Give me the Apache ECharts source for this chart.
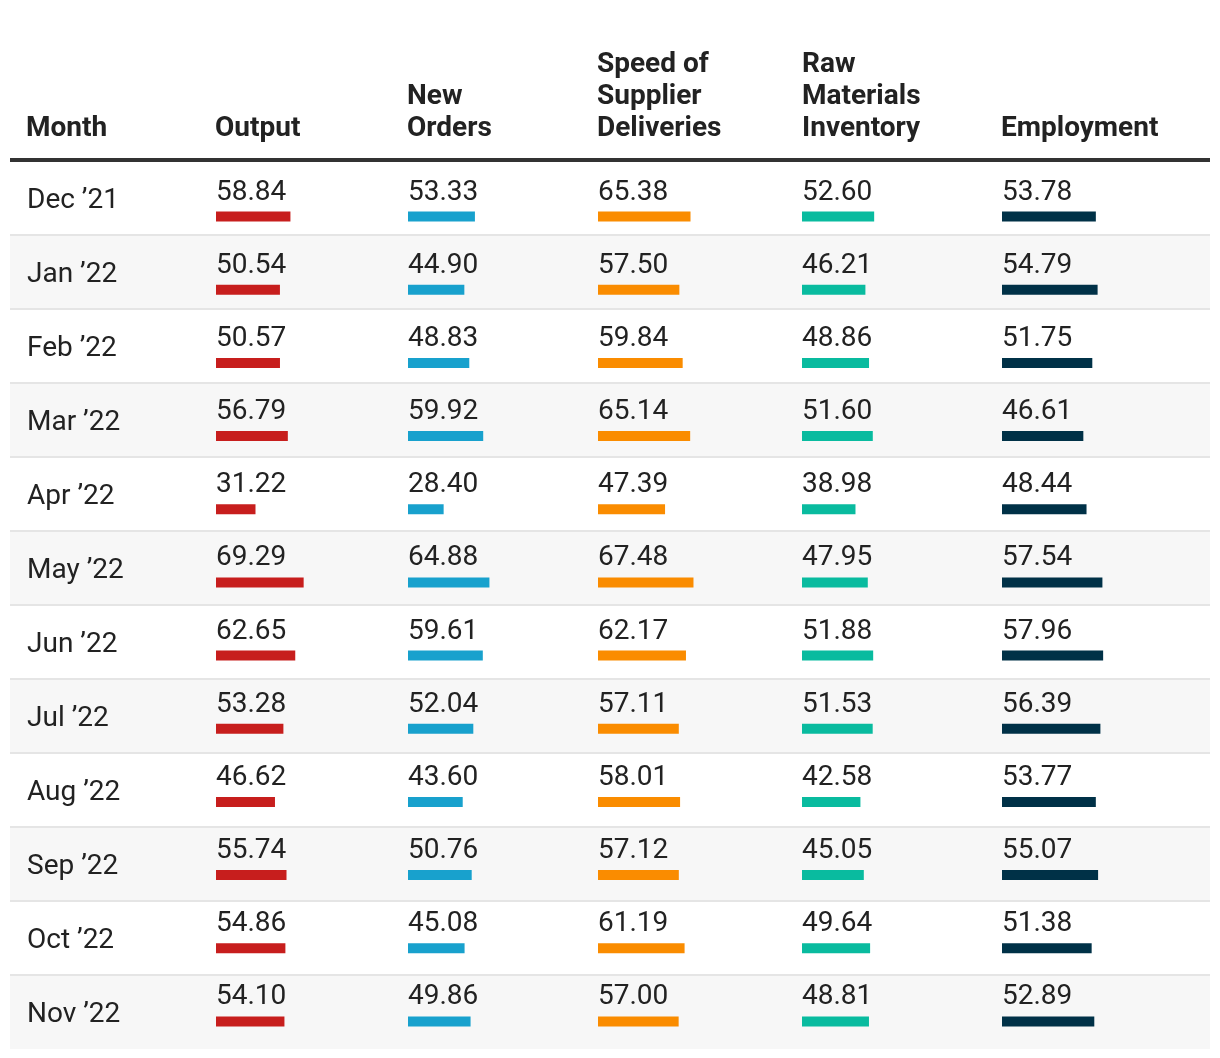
<!DOCTYPE html>
<html>
<head>
<meta charset="utf-8">
<script src="https://cdn.jsdelivr.net/npm/echarts@6/dist/echarts.min.js"></script>
<style>
html,body{margin:0;padding:0;background:#fff;}
#chart{width:1220px;height:1058px;}
</style>
</head>
<body>
<div id="chart"></div>
<script>
// ---- data ----
const months = ['Dec \u201921','Jan \u201922','Feb \u201922','Mar \u201922','Apr \u201922','May \u201922','Jun \u201922','Jul \u201922','Aug \u201922','Sep \u201922','Oct \u201922','Nov \u201922'];
const columnHeaders = ['Month','Output','New\nOrders','Speed of\nSupplier\nDeliveries','Raw\nMaterials\nInventory','Employment'];
const output     = [58.84,50.54,50.57,56.79,31.22,69.29,62.65,53.28,46.62,55.74,54.86,54.10];
const newOrders  = [53.33,44.90,48.83,59.92,28.40,64.88,59.61,52.04,43.60,50.76,45.08,49.86];
const supplier   = [65.38,57.50,59.84,65.14,47.39,67.48,62.17,57.11,58.01,57.12,61.19,57.00];
const rawInv     = [52.60,46.21,48.86,51.60,38.98,47.95,51.88,51.53,42.58,45.05,49.64,48.81];
const employment = [53.78,54.79,51.75,46.61,48.44,57.54,57.96,56.39,53.77,55.07,51.38,52.89];

// ---- layout / style ----
const seriesData = [output, newOrders, supplier, rawInv, employment];
const colors = ['#c71e1d','#18a1cd','#fa8c00','#09bb9f','#003147'];
const colLeft = [216, 408, 598, 802, 1002];
const pxPerUnit = [1.265, 1.255, 1.415, 1.372, 1.745];
const headerX = [26, 215, 407, 597, 802, 1001];
const FONT = 'Roboto, "Noto Sans", sans-serif';
const TEXT = '#222222';

// grid 0: row backgrounds, separators, header rule
const grids = [{left:10, width:1200, top:161, height:888}];
const xAxes = [{
  gridIndex:0, type:'value', position:'top', min:0, max:1, offset:1,
  axisLine:{show:true, lineStyle:{color:'#333333', width:4, cap:'butt'}},
  axisTick:{show:false}, axisLabel:{show:false}, splitLine:{show:false}
}];
const yAxes = [{
  gridIndex:0, type:'category', data:months, inverse:true,
  axisLine:{show:false}, axisTick:{show:false}, axisLabel:{show:false},
  splitArea:{show:true, areaStyle:{color:['#ffffff','#f7f7f7']}},
  splitLine:{show:true, showMinLine:false, showMaxLine:false, lineStyle:{color:'#e5e5e5', width:2}}
}];
// grid 1: month labels
grids.push({left:10, width:1200, top:164, height:888});
xAxes.push({gridIndex:1, type:'value', min:0, max:1, show:false});
yAxes.push({
  gridIndex:1, type:'category', data:months, inverse:true,
  axisLine:{show:false}, axisTick:{show:false}, splitLine:{show:false},
  axisLabel:{inside:true, margin:17, fontSize:28, color:TEXT, fontFamily:FONT, align:'left'}
});

const series = [];
seriesData.forEach((d, i) => {
  const gi = i + 2;
  grids.push({left:colLeft[i], width:pxPerUnit[i]*100, top:180, height:888});
  xAxes.push({gridIndex:gi, type:'value', min:0, max:100, show:false});
  yAxes.push({gridIndex:gi, type:'category', data:months, inverse:true, show:false});
  series.push({
    type:'bar', xAxisIndex:gi, yAxisIndex:gi, data:d, barWidth:10,
    itemStyle:{color:colors[i]}, silent:true,
    label:{show:true, position:[0,-19], align:'left', verticalAlign:'middle',
      fontSize:28, color:TEXT, fontFamily:FONT,
      formatter:(p)=>p.value.toFixed(2)}
  });
});

const graphic = columnHeaders.map((h, i) => ({
  type:'text', x:headerX[i], y:145,
  style:{text:h, fill:TEXT, fontSize:28, fontWeight:'bold', fontFamily:FONT,
    lineHeight:32, align:'left', verticalAlign:'bottom', textAlign:'left', textVerticalAlign:'bottom'}
}));

const chart = echarts.init(document.getElementById('chart'), null, {renderer:'canvas'});
chart.setOption({
  backgroundColor:'#ffffff',
  animation:false,
  grid:grids, xAxis:xAxes, yAxis:yAxes, series:series, graphic:graphic
});
</script>
</body>
</html>
